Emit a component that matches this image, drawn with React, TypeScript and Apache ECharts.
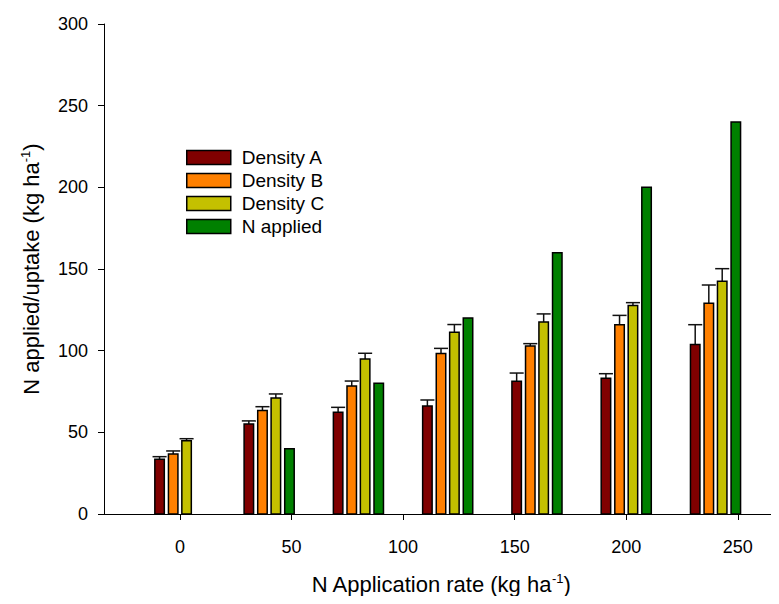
import React, { useEffect, useRef } from "react";
import * as echarts from "echarts";

// N application rates (kg ha-1) at which each group of bars sits
const nRates = [0, 40, 80, 120, 160, 200, 240];

// N uptake by plant density, with the upper standard error
const densityA = [33.5, 55.1, 62.3, 66.1, 81.2, 83.1, 103.7];
const densityAErr = [1.6, 1.9, 3.0, 3.7, 5.1, 2.8, 12.2];
const densityB = [36.7, 63.3, 78.4, 98.2, 102.9, 115.9, 129.0];
const densityBErr = [1.9, 2.4, 3.0, 3.2, 1.4, 5.7, 11.2];
const densityC = [44.9, 71.0, 94.9, 111.2, 117.6, 127.6, 142.5];
const densityCErr = [1.2, 2.5, 3.5, 4.8, 4.9, 1.8, 7.7];
const nApplied = [0, 40, 80, 120, 160, 200, 240];

const xTicks = [0, 50, 100, 150, 200, 250];

const FONT = "Liberation Sans, Arial, sans-serif";
const BAR_W = 4.25; // bar width in x-axis units
const CAP_W = 6.3; // error cap width in x-axis units

type SeriesDef = {
  name: string;
  color: string;
  offset: number;
  values: number[];
  errors?: number[];
};

const seriesDefs: SeriesDef[] = [
  { name: "Density A", color: "#800000", offset: -9.1, values: densityA, errors: densityAErr },
  { name: "Density B", color: "#ff8000", offset: -3.0, values: densityB, errors: densityBErr },
  { name: "Density C", color: "#c4c000", offset: 3.0, values: densityC, errors: densityCErr },
  { name: "N applied", color: "#008000", offset: 9.1, values: nApplied },
];

function makeRenderer(def: SeriesDef) {
  return (_params: any, api: any) => {
    const x = api.value(0) + def.offset;
    const v = api.value(1);
    const e = api.value(2);
    const children: any[] = [];
    if (!v) return { type: "group", children };
    const top = api.coord([x, v]);
    const base = api.coord([x, 0]);
    const w = api.size([BAR_W, 0])[0];
    if (e > 0) {
      const up = api.coord([x, v + e]);
      const cw = api.size([CAP_W, 0])[0];
      children.push({
        type: "line",
        shape: { x1: top[0], y1: top[1], x2: top[0], y2: up[1] },
        style: { stroke: "#111", lineWidth: 1.5 },
      });
      children.push({
        type: "line",
        shape: { x1: top[0] - cw / 2, y1: up[1], x2: top[0] + cw / 2, y2: up[1] },
        style: { stroke: "#111", lineWidth: 1.5 },
      });
    }
    children.push({
      type: "rect",
      shape: { x: top[0] - w / 2, y: top[1], width: w, height: base[1] - top[1] },
      style: { fill: def.color, stroke: "#000", lineWidth: 1.5 },
    });
    return { type: "group", children };
  };
}

export default function App() {
  const ref = useRef<HTMLDivElement>(null);

  useEffect(() => {
    if (!ref.current) return;
    const chart = echarts.init(ref.current, undefined, { renderer: "svg" });

    const option: any = {
      animation: false,
      backgroundColor: "#fff",
      textStyle: { fontFamily: FONT, color: "#000" },
      grid: { left: 104, right: 1, top: 24, bottom: 90, containLabel: false },
      legend: {
        orient: "vertical",
        left: 181,
        top: 143,
        itemWidth: 44,
        itemHeight: 14,
        itemGap: 4,
        icon: "rect",
        textStyle: { fontFamily: FONT, fontSize: 19, color: "#000", lineHeight: 14, padding: [0, 0, 0, 6] },
        data: seriesDefs.map((d) => ({
          name: d.name,
          itemStyle: { color: d.color, borderColor: "#000", borderWidth: 1.5 },
        })),
      },
      xAxis: {
        type: "value",
        min: -34,
        max: 268,
        name: "{a|N Application rate (kg ha}{s|-1}{a|)}",
        nameLocation: "middle",
        nameGap: 58,
        nameTextStyle: {
          rich: {
            a: { fontFamily: FONT, fontSize: 22, color: "#000" },
            s: { fontFamily: FONT, fontSize: 13, color: "#000", padding: [0, 0, 12, 0] },
          },
        },
        axisLine: { show: true, onZero: false, lineStyle: { color: "#000", width: 1 } },
        axisTick: { show: true, length: 6, inside: false, customValues: xTicks, lineStyle: { color: "#000" } },
        axisLabel: { fontFamily: FONT, fontSize: 18, color: "#000", margin: 24, customValues: xTicks },
        splitLine: { show: false },
      },
      yAxis: {
        type: "value",
        min: 0,
        max: 300,
        interval: 50,
        name: "{a|N applied/uptake (kg ha}{s|-1}{a|)}",
        nameLocation: "middle",
        nameRotate: 90,
        nameGap: 60,
        nameTextStyle: {
          rich: {
            a: { fontFamily: FONT, fontSize: 22, color: "#000" },
            s: { fontFamily: FONT, fontSize: 13, color: "#000", padding: [0, 0, 12, 0] },
          },
        },
        axisLine: { show: true, onZero: false, lineStyle: { color: "#000", width: 1 } },
        axisTick: { show: true, length: 6, lineStyle: { color: "#000" } },
        axisLabel: { fontFamily: FONT, fontSize: 18, color: "#000", margin: 16 },
        splitLine: { show: false },
      },
      series: seriesDefs.map((d) => ({
        type: "custom",
        name: d.name,
        itemStyle: { color: d.color, borderColor: "#000", borderWidth: 1.5 },
        encode: { x: 0, y: 1 },
        renderItem: makeRenderer(d),
        data: nRates.map((n, i) => [n, d.values[i], d.errors ? d.errors[i] : 0]),
      })),
    };

    chart.setOption(option);
    return () => chart.dispose();
  }, []);

  return <div ref={ref} style={{ width: 779, height: 604, margin: -8 }} />;
}
